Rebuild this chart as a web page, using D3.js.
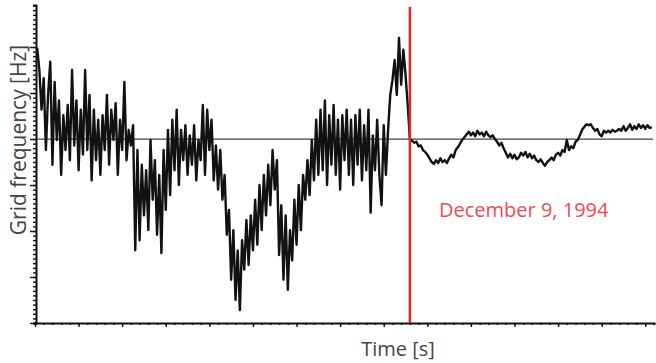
<!DOCTYPE html>
<html>
<head>
<meta charset="utf-8">
<script src="https://cdn.jsdelivr.net/npm/d3@7"></script>
<style>
  body { margin: 0; background: #fff; }
  svg { display: block; font-family: "Open Sans", sans-serif; }
</style>
</head>
<body>
<svg id="chart" width="656" height="363"></svg>
<script>
// sampled every 0.5 s starting at t = 0.5 s, deviation from 50 Hz in mHz
var dt = 0.5, t0 = 0.5;
var freqBefore = [
  99, 75, 32, 66, -12, 48, 84, -28, 62, -1, 42, -39, 26, -12, 37, -23, 75, -7, 42, -34,
  32, -17, 75, -12, 48, -45, 32, -23, 21, -39, 26, -12, 48, -28, 32, -1, 39, -39, 21, -12,
  62, -23, 10, -7, 15, -121, -12, -110, -28, -83, -34, -99, -1, -66, -23, -104, -39, -124, -12, -77,
  10, -61, 21, -34, 32, -50, 10, -23, 15, -39, 4, -28, 15, -45, -1, -23, 37, -39, 32, -12,
  21, -45, -7, -55, -12, -66, -39, -104, -77, -153, -99, -175, -121, -186, -110, -142, -88, -137, -83, -121,
  -66, -115, -50, -99, -39, -83, -28, -72, -12, -55, -23, -126, -72, -153, -83, -164, -99, -132, -66, -115,
  -50, -99, -39, -66, -23, -61, -1, -45, 21, -39, 32, -34, 42, -50, 26, -28, 37, -39, 21, -55,
  26, -23, 32, -39, 21, -50, 26, -28, 32, -45, 15, -34, 32, -80, 4, -34, 21, -39, -72, 15,
  -39, 10, 48, 64, 86, 48, 110, 59, 97, 70, 37, 0
];
var freqAfter = [
  -2, -4, -3, -8, -7, -12, -14, -17, -21, -25, -27, -23, -26, -21, -25, -23, -26, -21, -17, -20,
  -12, -9, -5, -1, 2, 5, 8, 4, 7, 3, 9, 5, 7, 3, 8, 4, 2, 4, 0, -3,
  -7, -4, -10, -15, -20, -16, -21, -17, -22, -20, -15, -18, -14, -20, -16, -21, -18, -23, -25, -22,
  -26, -29, -25, -23, -20, -23, -17, -15, -18, -12, -14, -1, -12, -8, -10, -3, -1, 4, 10, 13,
  16, 15, 16, 12, 9, 11, 5, 3, 9, 7, 9, 7, 10, 8, 9, 11, 9, 14, 9, 12,
  16, 10, 14, 11, 16, 12, 15, 11, 15, 12, 13
];
var eventTime = 86;            // s, December 9, 1994 event
var yMinorTicks = d3.range(-200, 146, 5);
var yMajorTicks = [-200, -150, -100, -50, 0, 50, 100];
var xMinorTicks = d3.range(0, 143, 2);
var xMajorTicks = d3.range(0, 143, 10);

var svg = d3.select("#chart");
var x = d3.scaleLinear().domain([0, 142]).range([35, 654]);
var y = d3.scaleLinear().domain([-200, 145.7]).range([323, 5]);

var series = freqBefore.concat(freqAfter).map(function (v, i) {
  return { t: t0 + i * dt, f: v };
});

// axes
var yAxisMinor = d3.axisLeft(y).tickValues(yMinorTicks).tickSize(3).tickFormat("");
var yAxisMajor = d3.axisLeft(y).tickValues(yMajorTicks).tickSize(6).tickFormat("");
svg.append("g").attr("transform", "translate(36,0)").call(yAxisMinor);
svg.append("g").attr("transform", "translate(36,0)").call(yAxisMajor).select(".domain").remove();

var xAxisMinor = d3.axisBottom(x).tickValues(xMinorTicks).tickSize(2).tickFormat("");
var xAxisMajor = d3.axisBottom(x).tickValues(xMajorTicks).tickSize(4).tickFormat("");
svg.append("g").attr("transform", "translate(0,323)").call(xAxisMinor);
svg.append("g").attr("transform", "translate(0,323)").call(xAxisMajor).select(".domain").remove();

svg.selectAll(".domain").attr("stroke", "#111").attr("stroke-width", 2);
svg.selectAll(".tick line").attr("stroke", "#111").attr("stroke-width", 1.4);

// nominal 50 Hz line
svg.append("line")
  .attr("x1", 37).attr("x2", 653)
  .attr("y1", y(0)).attr("y2", y(0))
  .attr("stroke", "#444").attr("stroke-width", 1.2);

// trace
var line = d3.line()
  .x(function (d) { return x(d.t); })
  .y(function (d) { return y(d.f); });

svg.append("path")
  .datum(series)
  .attr("d", line)
  .attr("fill", "none")
  .attr("stroke", "#111")
  .attr("stroke-width", 2.4)
  .attr("stroke-linejoin", "round");

// event marker
svg.append("line")
  .attr("x1", x(eventTime)).attr("x2", x(eventTime))
  .attr("y1", 7).attr("y2", 323)
  .attr("stroke", "#e3262b").attr("stroke-width", 2.5);

svg.append("text")
  .attr("x", 439).attr("y", 217)
  .attr("fill", "#f04a55")
  .style("font-size", "20px")
  .text("December 9, 1994");

// axis titles
svg.append("text")
  .attr("transform", "translate(26,140) rotate(-90)")
  .attr("text-anchor", "middle")
  .attr("fill", "#444")
  .style("font-size", "21px")
  .text("Grid frequency [Hz]");

svg.append("text")
  .attr("x", 398).attr("y", 356)
  .attr("text-anchor", "middle")
  .attr("fill", "#444")
  .style("font-size", "20px")
  .text("Time [s]");
</script>
</body>
</html>
